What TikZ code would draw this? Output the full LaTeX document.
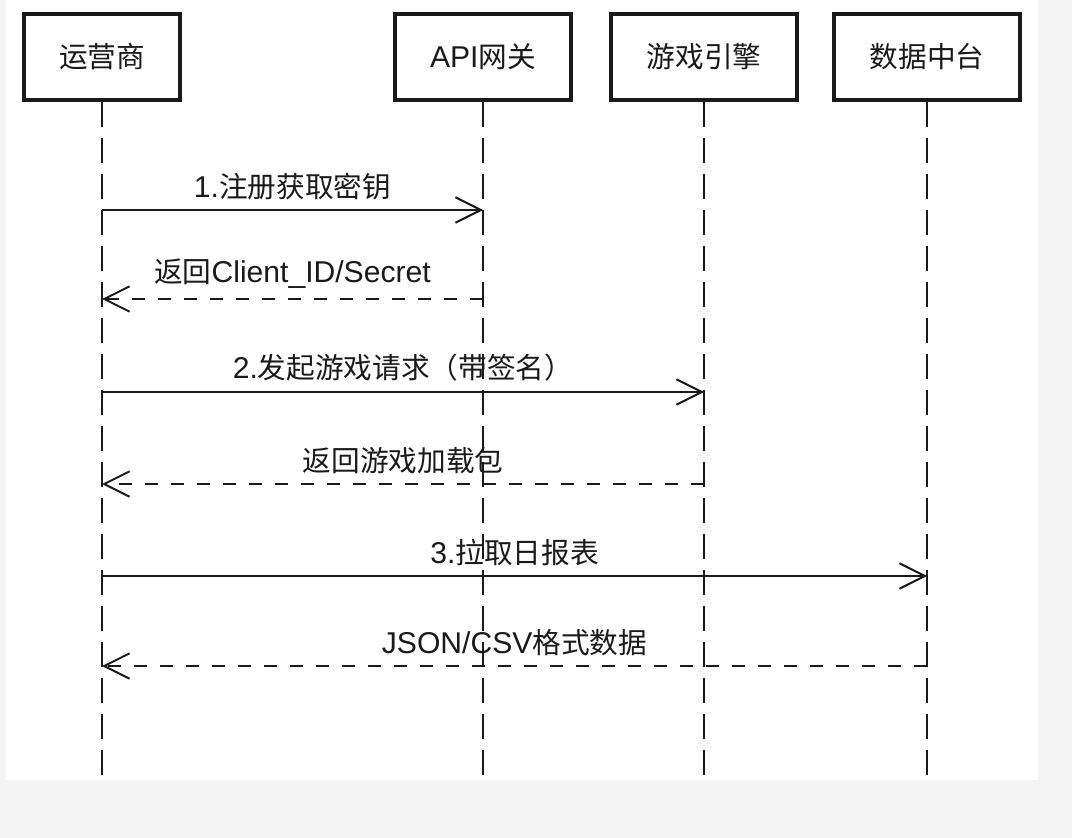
\documentclass[tikz,border=0pt]{standalone}
\usepackage{fontspec}
\setmainfont{Liberation Sans}[Scale=1.05]
\newfontfamily\cjk{Noto Sans CJK SC}
\usetikzlibrary{arrows.meta,positioning}
\definecolor{ink}{HTML}{1A1A1A}
\definecolor{pagebg}{HTML}{F4F4F4}
\tikzset{
  actor/.style={
    rectangle, draw=ink, line width=3pt, fill=white,
    minimum height=65pt, inner xsep=26.5pt, text=ink,
    font=\fontsize{21.5}{26}\selectfont
  },
  lifeline/.style={draw=ink, line width=1.5pt, dash pattern=on 18.75pt off 8.25pt},
  callarrow/.style={draw=ink, line width=1.5pt, -{Straight Barb[length=19pt,width=19pt]}},
  replyarrow/.style={callarrow, dash pattern=on 9.75pt off 9.75pt},
  msglabel/.style={above, inner sep=0pt, yshift=7pt, text=ink,
    font=\fontsize{21.5}{26}\selectfont},
}
\begin{document}
\begin{tikzpicture}[x=0.75pt, y=-0.75pt]
  % page and canvas
  \fill[pagebg] (0,0) rectangle (1072,838);
  \fill[white] (6,0) rectangle (1038,780);
  \useasboundingbox (0,0) rectangle (1072,838);
  % participants
  \node[actor] (op)   at (102,57) {\cjk 运营商};
  \node[actor] (api)  at (483,57) {API{\cjk 网关}};
  \node[actor] (eng)  at (704,57) {\cjk 游戏引擎};
  \node[actor] (data) at (927,57) {\cjk 数据中台};
  % lifelines
  \foreach \p in {op,api,eng,data} {
    \coordinate (\p-end) at (\p.south |- 0,775);
    \draw[lifeline] (\p.south) -- (\p-end);
  }
  % message anchors on the lifelines
  \coordinate (op1) at (op.south |- 0,210);   \coordinate (api1) at (api.south |- 0,210);
  \coordinate (op2) at (op.south |- 0,299);   \coordinate (api2) at (api.south |- 0,299);
  \coordinate (op3) at (op.south |- 0,392);   \coordinate (eng3) at (eng.south |- 0,392);
  \coordinate (op4) at (op.south |- 0,484);   \coordinate (eng4) at (eng.south |- 0,484);
  \coordinate (op5) at (op.south |- 0,576);   \coordinate (data5) at (data.south |- 0,576);
  \coordinate (op6) at (op.south |- 0,666);   \coordinate (data6) at (data.south |- 0,666);
  % messages
  \draw[callarrow]  (op1) -- node[msglabel] {1.{\cjk 注册获取密钥}} (api1);
  \draw[replyarrow] (api2) -- node[msglabel] {{\cjk 返回}Client\_ID/Secret} (op2);
  \draw[callarrow]  (op3) -- node[msglabel] {2.{\cjk 发起游戏请求（带签名）}} (eng3);
  \draw[replyarrow] (eng4) -- node[msglabel] {\cjk 返回游戏加载包} (op4);
  \draw[callarrow]  (op5) -- node[msglabel] {3.{\cjk 拉取日报表}} (data5);
  \draw[replyarrow] (data6) -- node[msglabel] {JSON/CSV{\cjk 格式数据}} (op6);
\end{tikzpicture}
\end{document}
